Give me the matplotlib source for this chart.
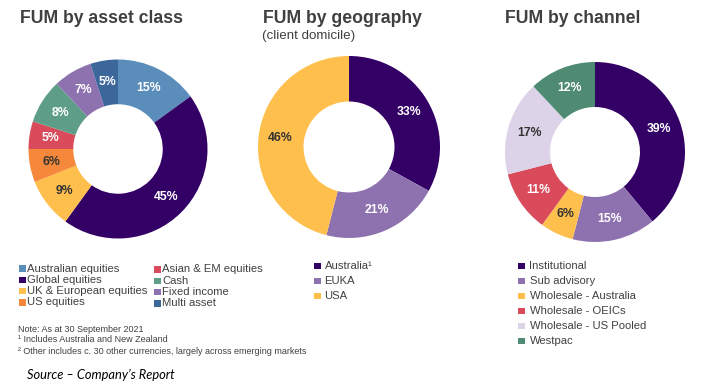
import matplotlib
matplotlib.use("Agg")
import matplotlib.pyplot as plt
from matplotlib.patches import Rectangle

W, H = 704, 385
DPI = 100

# ---------------- data ----------------
asset_labels = ["Australian equities", "Global equities", "UK & European equities", "US equities",
                "Asian & EM equities", "Cash", "Fixed income", "Multi asset"]
asset_values = [15, 45, 9, 6, 5, 8, 7, 5]
asset_colors = ["#5A8DBA", "#330066", "#FFBF4D", "#F5883A", "#D94A5B", "#5E9E88", "#8E72B0", "#3B679A"]
asset_txt = ["white", "white", "#333333", "#333333", "white", "white", "white", "white"]

geo_labels = ["Australia\u00b9", "EUKA", "USA"]
geo_values = [33, 21, 46]
geo_colors = ["#330066", "#8E72B0", "#FFBF4D"]
geo_txt = ["white", "white", "#333333"]

chan_labels = ["Institutional", "Sub advisory", "Wholesale - Australia", "Wholesale - OEICs",
               "Wholesale - US Pooled", "Westpac"]
chan_values = [39, 15, 6, 11, 17, 12]
chan_colors = ["#330066", "#8E72B0", "#FFBF4D", "#D94A5B", "#DCD3E8", "#4F8A72"]
chan_txt = ["white", "white", "#333333", "white", "#333333", "white"]

titles = ["FUM by asset class", "FUM by geography", "FUM by channel"]
notes = ["Note: As at 30 September 2021",
         "\u00b9 Includes Australia and New Zealand",
         "\u00b2 Other includes c. 30 other currencies, largely across emerging markets"]
source = "Source \u2013 Company\u2019s Report"

FONT = "Liberation Sans"
GREY = "#404040"

fig = plt.figure(figsize=(W / DPI, H / DPI), dpi=DPI)
fig.patch.set_facecolor("white")


def fx(x):
    return x / W


def fy(y):
    return 1 - y / H


def donut(cx, cy, R, values, colors, txtcols):
    ax = fig.add_axes([fx(cx - R), fy(cy + R), 2 * R / W, 2 * R / H])
    wedges, texts, autotexts = ax.pie(
        values, colors=colors, startangle=90, counterclock=False, radius=1,
        wedgeprops=dict(width=0.5, linewidth=0), autopct="%d%%", pctdistance=0.76,
        textprops=dict(family=FONT, fontsize=8.8, fontweight="bold"))
    for t, c in zip(autotexts, txtcols):
        t.set_color(c)
    ax.set_xlim(-1, 1)
    ax.set_ylim(-1, 1)
    ax.set_aspect("equal")
    ax.axis("off")
    return ax


donut(118, 149, 89.5, asset_values, asset_colors, asset_txt)
donut(349, 147, 91, geo_values, geo_colors, geo_txt)
donut(595, 152, 90, chan_values, chan_colors, chan_txt)

# titles
for x, t in zip([20, 263, 505], titles):
    fig.text(fx(x), fy(23), t, family=FONT, fontsize=12.7, fontweight="bold", color=GREY,
             va="baseline", ha="left")
fig.text(fx(262), fy(39), "(client domicile)", family=FONT, fontsize=9.6, color=GREY,
         va="baseline", ha="left")


def legend(x, y0, dy, labels, colors, fs=8.1, sq=6.5, gap=1.5):
    for i, (lab, col) in enumerate(zip(labels, colors)):
        y = y0 + i * dy
        fig.add_artist(Rectangle((fx(x), fy(y + sq / 2)), sq / W, sq / H,
                                 transform=fig.transFigure, facecolor=col, edgecolor="none"))
        fig.text(fx(x + sq + gap), fy(y), lab, family=FONT, fontsize=fs, color=GREY,
                 va="center", ha="left")


legend(19, 268.5, 11.3, asset_labels[:4], asset_colors[:4])
legend(154, 269.5, 11.3, asset_labels[4:], asset_colors[4:])
legend(314, 266, 15, geo_labels, geo_colors, gap=4)
legend(518, 266, 15, chan_labels, chan_colors, gap=5)

for i, n in enumerate(notes):
    fig.text(fx(18), fy(329 + i * 11), n, family=FONT, fontsize=6.5, color=GREY,
             va="center", ha="left")

fig.text(fx(27), fy(375), source, family="Lato", fontsize=9.3, style="italic", color="black",
         va="center", ha="left")

fig.savefig("out.png", dpi=DPI, facecolor="white")
